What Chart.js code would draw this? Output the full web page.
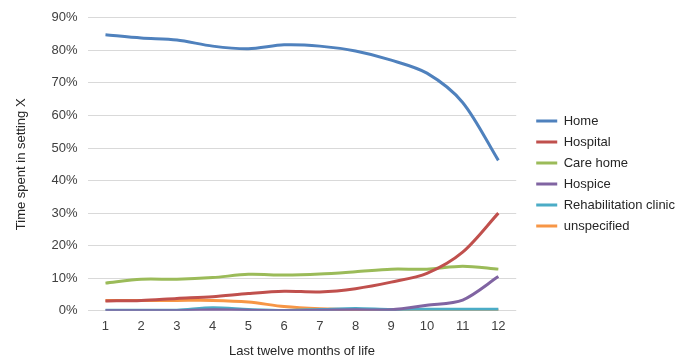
<!DOCTYPE html>
<html>
<head>
<meta charset="utf-8">
<script src="https://cdn.jsdelivr.net/npm/chart.js@4.4.0/dist/chart.umd.min.js"></script>
<style>
  html, body { margin: 0; padding: 0; background: #fff; }
  #wrap { width: 687px; height: 359px; }
</style>
</head>
<body>
<div id="wrap"><canvas id="chart"></canvas></div>
<script>
// DATA
const months = ["1", "2", "3", "4", "5", "6", "7", "8", "9", "10", "11", "12"];
const home = [84.8, 83.8, 83.2, 81.3, 80.5, 81.7, 81.3, 79.8, 77.0, 73.0, 64.0, 46.2];
const hospital = [3.0, 3.2, 3.8, 4.3, 5.3, 6.0, 5.8, 6.8, 8.8, 11.5, 18.0, 30.0];
const careHome = [8.5, 9.7, 9.7, 10.2, 11.2, 11.0, 11.3, 12.0, 12.8, 12.8, 13.7, 12.8];
const hospice = [0.0, 0.0, 0.0, 0.3, 0.2, 0.0, 0.2, 0.3, 0.3, 1.7, 3.3, 10.5];
const rehab = [0.2, 0.2, 0.2, 0.9, 0.4, 0.1, 0.4, 0.7, 0.4, 0.5, 0.5, 0.5];
const unspecified = [3.2, 3.2, 3.2, 3.2, 2.7, 1.3, 0.6, 0.3, 0.3, 0.3, 0.2, 0.2];
const yTicks = [0, 10, 20, 30, 40, 50, 60, 70, 80, 90];

const FONT = "'Liberation Sans', Arial, sans-serif";

function line(label, data, color) {
  return {
    label: label,
    data: data,
    borderColor: color,
    backgroundColor: color,
    borderWidth: 3,
    pointRadius: 0,
    tension: 0.3,
    fill: false,
  };
}

// push the legend away from the plot (extra room on its left) and lift it a bit
const LEGEND_GAP = 13;
const LEGEND_LIFT = -11;
const legendShift = {
  id: "legendShift",
  afterInit(chart) {
    const lg = chart.legend;
    if (!lg || lg._shifted) return;
    const fit = lg.fit.bind(lg);
    const draw = lg.draw.bind(lg);
    lg.fit = function () { fit(); this.width += LEGEND_GAP; };
    lg.draw = function () {
      const ctx = this.ctx;
      ctx.save();
      ctx.translate(LEGEND_GAP - 1, LEGEND_LIFT);
      draw();
      ctx.restore();
    };
    lg._shifted = true;
  },
};

new Chart(document.getElementById("chart"), {
  type: "line",
  data: {
    labels: months,
    datasets: [
      line("Home", home, "#4f81bd"),
      line("Hospital", hospital, "#c0504d"),
      line("Care home", careHome, "#9bbb59"),
      line("Hospice", hospice, "#8064a2"),
      line("Rehabilitation clinic", rehab, "#4bacc6"),
      line("unspecified", unspecified, "#f79646"),
    ],
  },
  plugins: [legendShift],
  options: {
    responsive: true,
    maintainAspectRatio: false,
    animation: false,
    layout: { padding: { top: 10, right: 1, bottom: 0, left: 14 } },
    plugins: {
      legend: {
        position: "right",
        align: "center",
        labels: {
          usePointStyle: true,
          pointStyle: "line",
          pointStyleWidth: 21,
          boxHeight: 3,
          padding: 8,
          color: "#262626",
          font: { family: FONT, size: 13 },
        },
      },
      tooltip: { enabled: false },
    },
    scales: {
      x: {
        offset: true,
        grid: { display: false, drawTicks: false },
        border: { display: false },
        ticks: { color: "#404040", font: { family: FONT, size: 13 }, padding: 8 },
        title: {
          display: true,
          text: "Last twelve months of life",
          color: "#262626",
          font: { family: FONT, size: 13 },
          padding: { top: 1, bottom: 0 },
        },
      },
      y: {
        min: 0,
        max: 90,
        afterBuildTicks: (axis) => { axis.ticks = yTicks.map((v) => ({ value: v })); },
        grid: { color: "#d9d9d9", lineWidth: 1, drawTicks: false },
        border: { display: false },
        ticks: {
          color: "#404040",
          font: { family: FONT, size: 13 },
          padding: 10,
          callback: (v) => v + "%",
        },
        title: {
          display: true,
          text: "Time spent in setting X",
          color: "#262626",
          font: { family: FONT, size: 13 },
          padding: { top: 0, bottom: 12 },
        },
      },
    },
  },
});
</script>
</body>
</html>
